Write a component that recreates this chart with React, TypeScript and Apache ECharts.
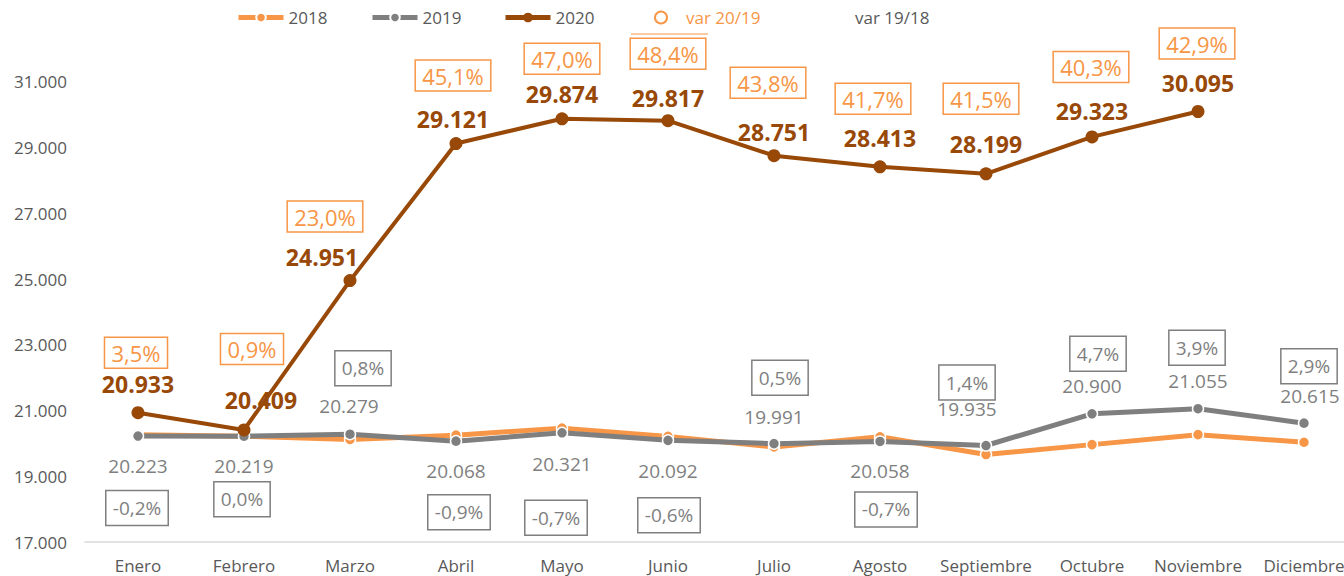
import React, { useEffect, useRef } from "react";
import * as echarts from "echarts";

const months = ["Enero", "Febrero", "Marzo", "Abril", "Mayo", "Junio", "Julio", "Agosto", "Septiembre", "Octubre", "Noviembre", "Diciembre"];
const sales2018 = [20263, 20219, 20118, 20250, 20464, 20213, 19892, 20199, 19660, 19962, 20265, 20034];
const sales2019 = [20223, 20219, 20279, 20068, 20321, 20092, 19991, 20058, 19935, 20900, 21055, 20615];
const sales2020 = [20933, 20409, 24951, 29121, 29874, 29817, 28751, 28413, 28199, 29323, 30095];
const var2019 = ["3,5%", "0,9%", "23,0%", "45,1%", "47,0%", "48,4%", "43,8%", "41,7%", "41,5%", "40,3%", "42,9%"];
const var1918 = ["-0,2%", "0,0%", "0,8%", "-0,9%", "-0,7%", "-0,6%", "0,5%", "-0,7%", "1,4%", "4,7%", "3,9%", "2,9%"];

// label placement (pixels relative to the point)
const off2020 = [[0, -29], [17, -30], [-28, -24], [-3, -25], [0, -25], [0, -23], [0, -24], [0, -29], [0, -30], [0, -26], [0, -29]];
const offVar2019 = [[-2, -60], [8, -81], [-25, -64], [-3, -68], [0, -60], [0, -67], [-6, -73], [-7, -68], [-5, -75], [-1, -70], [-1, -68]];
const off2019 = [[0, 30], [0, 30], [-1, -28], [0, 30], [0, 31], [0, 31], [0, -27], [0, 30], [-19, -37], [0, -28], [0, -28], [6, -27]];
const offVar1918 = [[-1, 72], [-2, 63], [13, -66], [3, 71], [-6, 85], [1, 75], [6, -66], [6, 68], [-19, -63], [6, -60], [-1, -61], [5, -57]];

const FONT = "'Open Sans', sans-serif";
const C18 = "#F79646";
const C19 = "#7F7F7F";
const C20 = "#984807";
const AXIS_TXT = "#595959";

const fmt = (v: number) => Math.round(v).toString().replace(/\B(?=(\d{3})+(?!\d))/g, ".");

const legendBase = {
  top: 9,
  padding: 0,
  itemWidth: 45,
  itemHeight: 12,
  lineStyle: { width: 5 },
  textStyle: { fontSize: 17, color: AXIS_TXT, fontFamily: FONT },
};

export default function App() {
  const ref = useRef<HTMLDivElement>(null);
  useEffect(() => {
    if (!ref.current) return;
    const chart = echarts.init(ref.current, null, { renderer: "svg" });
    chart.setOption({
      animation: false,
      backgroundColor: "#ffffff",
      textStyle: { fontFamily: FONT },
      grid: { left: 85, width: 1272, top: 16, bottom: 34, containLabel: false, outerBoundsMode: "none" },
      legend: [
        { ...legendBase, left: 236, data: ["2018"] },
        { ...legendBase, left: 370, data: ["2019"] },
        { ...legendBase, left: 503, data: ["2020"] },
        {
          ...legendBase,
          left: 654,
          itemWidth: 40,
          data: [{ name: "var 20/19", icon: "emptyCircle", textStyle: { color: C18 } }],
        },
        {
          ...legendBase,
          left: 849,
          itemWidth: 1,
          data: [{ name: "var 19/18", icon: "none", textStyle: { color: AXIS_TXT } }],
        },
      ],
      graphic: [
        { type: "line", shape: { x1: 631, y1: 34, x2: 708, y2: 34 }, style: { stroke: C18, lineWidth: 1 } },
      ],
      xAxis: {
        type: "category",
        data: months,
        boundaryGap: true,
        axisLine: { show: true, lineStyle: { color: "#D9D9D9", width: 1.5 } },
        axisTick: { show: false },
        axisLabel: { color: AXIS_TXT, fontSize: 17, margin: 15, fontFamily: FONT, interval: 0 },
        splitLine: { show: false },
      },
      yAxis: {
        type: "value",
        min: 17000,
        max: 33000,
        interval: 2000,
        axisLine: { show: false },
        axisTick: { show: false },
        splitLine: { show: false },
        axisLabel: {
          color: AXIS_TXT,
          fontSize: 17,
          margin: 18,
          fontFamily: FONT,
          formatter: (v: number) => (v >= 33000 ? "" : fmt(v)),
        },
      },
      series: [
        {
          name: "2018",
          type: "line",
          data: sales2018,
          symbol: "circle",
          symbolSize: 11,
          lineStyle: { color: C18, width: 5 },
          itemStyle: { color: C18, borderColor: "#ffffff", borderWidth: 1.5 },
          z: 2,
        },
        {
          name: "2019",
          type: "line",
          data: sales2019.map((v, i) => ({ value: v, label: { offset: off2019[i] } })),
          symbol: "circle",
          symbolSize: 11,
          lineStyle: { color: C19, width: 5 },
          itemStyle: { color: C19, borderColor: "#ffffff", borderWidth: 1.5 },
          label: {
            show: true,
            position: "inside",
            color: C19,
            fontSize: 19,
            fontFamily: FONT,
            formatter: (p: any) => fmt(p.value),
          },
          z: 3,
        },
        {
          name: "2020",
          type: "line",
          data: sales2020.map((v, i) => ({ value: v, label: { offset: off2020[i] } })),
          symbol: "circle",
          symbolSize: 13,
          lineStyle: { color: C20, width: 4 },
          itemStyle: { color: C20 },
          label: {
            show: true,
            position: "inside",
            color: C20,
            fontSize: 23,
            fontWeight: "bold",
            fontFamily: FONT,
            formatter: (p: any) => fmt(p.value),
          },
          z: 4,
        },
        {
          name: "var 20/19",
          type: "line",
          data: sales2020.map((v, i) => ({ value: v, label: { offset: offVar2019[i] } })),
          symbol: "circle",
          symbolSize: 0.1,
          lineStyle: { opacity: 0 },
          itemStyle: { color: C18 },
          label: {
            show: true,
            position: "inside",
            color: C18,
            fontSize: 22,
            lineHeight: 22,
            fontFamily: FONT,
            borderColor: C18,
            borderWidth: 1.5,
            padding: [5, 7, 4, 7],
            formatter: (p: any) => var2019[p.dataIndex],
          },
          z: 5,
        },
        {
          name: "var 19/18",
          type: "line",
          data: sales2019.map((v, i) => ({ value: v, label: { offset: offVar1918[i] } })),
          symbol: "circle",
          symbolSize: 0.1,
          lineStyle: { opacity: 0 },
          itemStyle: { color: C19 },
          label: {
            show: true,
            position: "inside",
            color: C19,
            fontSize: 19,
            lineHeight: 19,
            fontFamily: FONT,
            borderColor: C19,
            borderWidth: 1.5,
            padding: [8, 7, 8, 7],
            formatter: (p: any) => var1918[p.dataIndex],
          },
          z: 5,
        },
      ],
    });
    return () => chart.dispose();
  }, []);
  return (
    <div
      ref={ref}
      style={{ position: "absolute", left: 0, top: 0, width: 1344, height: 576, background: "#fff" }}
    />
  );
}
